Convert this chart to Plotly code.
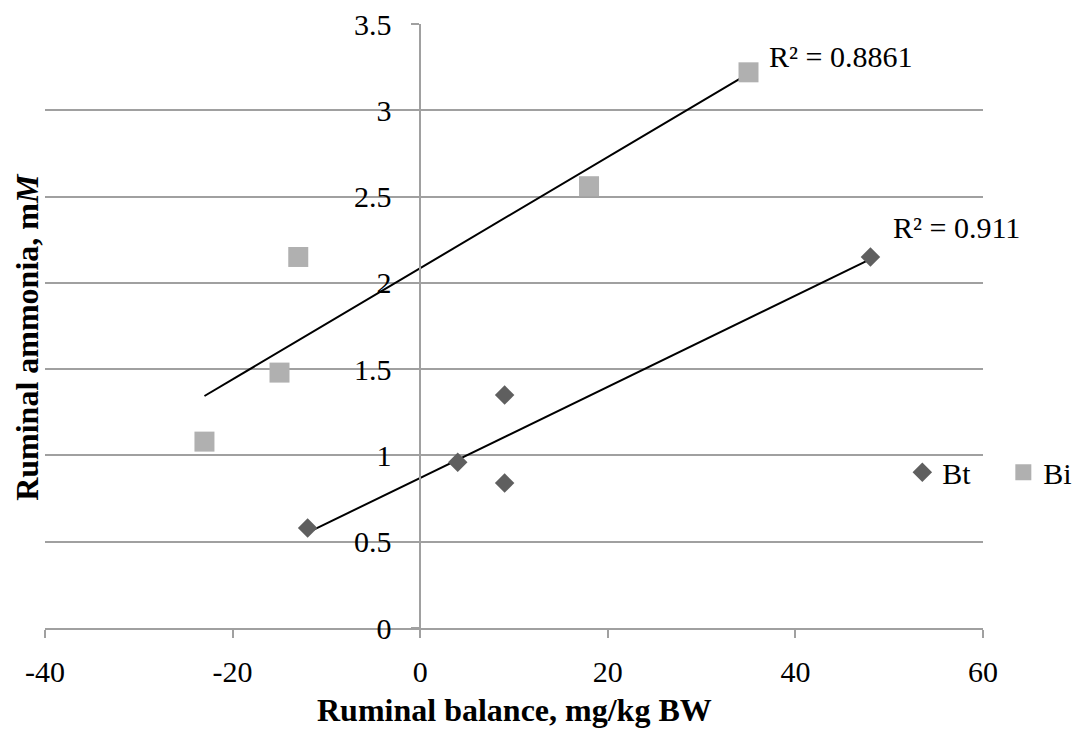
import numpy as np
import plotly.graph_objects as go

# Data
bt_x = [-12, 4, 9, 9, 48]
bt_y = [0.58, 0.96, 1.35, 0.84, 2.15]
bi_x = [-23, -15, -13, 18, 35]
bi_y = [1.08, 1.48, 2.15, 2.56, 3.22]
r2_labels = {"Bt": "R² = 0.911", "Bi": "R² = 0.8861"}
x_ticks = [-40, -20, 0, 20, 40, 60]
x_ticktext = ["-40", "-20", "0", "20", "40", "60"]
y_ticks = [0, 0.5, 1, 1.5, 2, 2.5, 3, 3.5]
y_ticktext = ["0", "0.5", "1", "1.5", "2", "2.5", "3", "3.5"]

FONT = "Liberation Serif"
BT_COLOR = "#5f5f5f"
BI_COLOR = "#b0b0b0"
GRID = "#a0a0a0"
TICK_SIZE = 30
TITLE_SIZE = 32

fig = go.Figure()

def trend(xs, ys):
    m, b = np.polyfit(xs, ys, 1)
    xx = np.array([min(xs), max(xs)], dtype=float)
    return xx, m * xx + b

for xs, ys in ((bi_x, bi_y), (bt_x, bt_y)):
    tx, ty = trend(xs, ys)
    fig.add_trace(go.Scatter(x=tx, y=ty, mode="lines", showlegend=False,
                             line=dict(color="black", width=2), hoverinfo="skip"))

fig.add_trace(go.Scatter(x=bt_x, y=bt_y, mode="markers", name="Bt",
                         marker=dict(symbol="diamond", size=15, color=BT_COLOR)))
fig.add_trace(go.Scatter(x=bi_x, y=bi_y, mode="markers", name="Bi",
                         marker=dict(symbol="square", size=20, color=BI_COLOR)))

annotations = [
    dict(x=bi_x[-1] + 2, y=bi_y[-1] + 0.09, xref="x", yref="y", text=r2_labels["Bi"],
         showarrow=False, xanchor="left", yanchor="middle",
         font=dict(size=TICK_SIZE, family=FONT, color="black")),
    dict(x=bt_x[-1] + 2.2, y=bt_y[-1] + 0.17, xref="x", yref="y", text=r2_labels["Bt"],
         showarrow=False, xanchor="left", yanchor="middle",
         font=dict(size=TICK_SIZE, family=FONT, color="black")),
    dict(x=-0.0192, y=0.482, xref="paper", yref="paper", text="<b>Ruminal ammonia, m<i>M</i></b>",
         textangle=-90, showarrow=False, xanchor="center", yanchor="middle",
         font=dict(size=TITLE_SIZE, family=FONT, color="black")),
    dict(x=0.5, y=-0.136, xref="paper", yref="paper", text="<b>Ruminal balance, mg/kg BW</b>",
         showarrow=False, xanchor="center", yanchor="middle",
         font=dict(size=TITLE_SIZE, family=FONT, color="black")),
]

fig.update_layout(
    width=1078, height=732,
    margin=dict(l=45, r=95, t=24, b=104, autoexpand=False),
    paper_bgcolor="white", plot_bgcolor="white",
    font=dict(family=FONT, size=TICK_SIZE, color="black"),
    annotations=annotations,
    legend=dict(orientation="h", x=0.914, y=0.258, xanchor="left", yanchor="middle",
                font=dict(size=TICK_SIZE, family=FONT, color="black"), bgcolor="rgba(0,0,0,0)",
                entrywidth=56, entrywidthmode="pixels", itemsizing="trace"),
    xaxis=dict(range=[-40, 60], tickvals=x_ticks, ticktext=x_ticktext, showgrid=False, zeroline=False,
               showline=True, linecolor=GRID, linewidth=1.5, ticks="outside", ticklen=8,
               tickcolor=GRID, tickwidth=1.5, ticklabelstandoff=8,
               tickfont=dict(size=TICK_SIZE, family=FONT, color="black")),
    yaxis=dict(range=[0, 3.5], tickvals=y_ticks, ticktext=y_ticktext, showgrid=True,
               gridcolor=GRID, gridwidth=1.5,
               zeroline=False, showline=True, linecolor=GRID, linewidth=1.5,
               ticks="outside", ticklen=8, tickcolor=GRID, tickwidth=1.5,
               anchor="free", position=0.4, ticklabelstandoff=14,
               tickfont=dict(size=TICK_SIZE, family=FONT, color="black")),
    showlegend=True,
)

fig.write_html("out.html")
